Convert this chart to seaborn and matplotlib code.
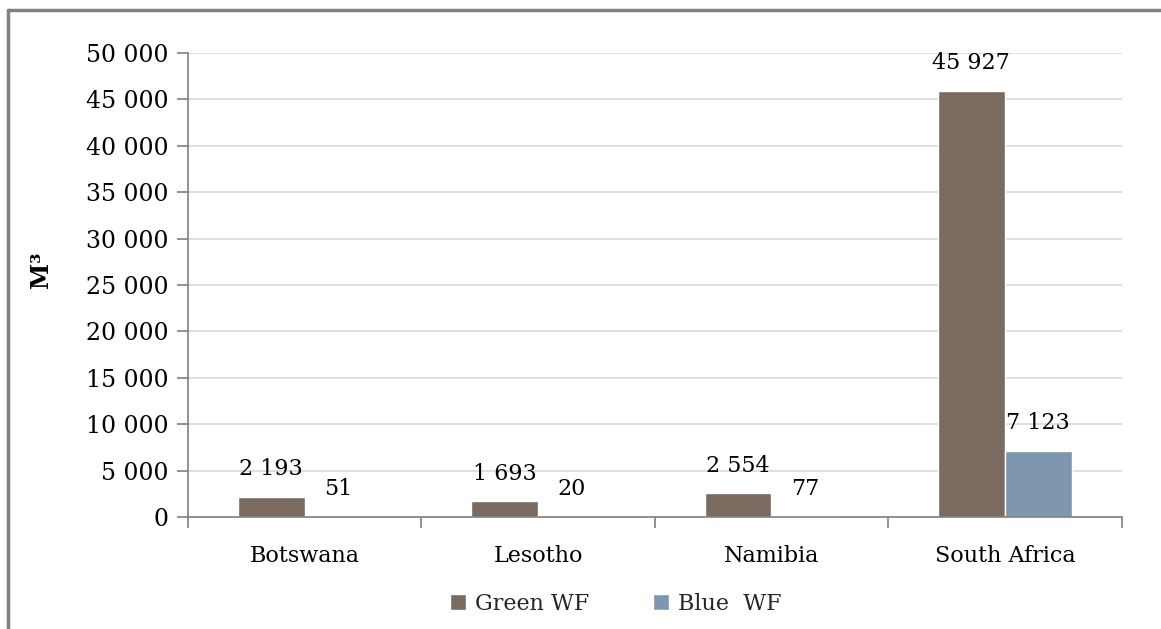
import matplotlib
matplotlib.use('Agg')
import matplotlib.pyplot as plt
from matplotlib.lines import Line2D
from matplotlib.ticker import FuncFormatter
import seaborn as sns
import pandas as pd

# Datos
countries = ['Botswana', 'Lesotho', 'Namibia', 'South Africa']
green_wf = [2193, 1693, 2554, 45927]
blue_wf = [51, 20, 77, 7123]
series_names = ['Green WF', 'Blue  WF']
colors = ['#7A6A5F', '#7F97AE']

df = pd.DataFrame({
    'country': countries * 2,
    'value': green_wf + blue_wf,
    'serie': [series_names[0]] * 4 + [series_names[1]] * 4,
})

sns.set_theme(style='white')
plt.rcParams['font.family'] = ['DejaVu Serif']
plt.rcParams['font.size'] = 16

fig = plt.figure(figsize=(11.61, 6.29), dpi=100)
ax = fig.add_axes([0.162, 0.178, 0.804, 0.738])

sns.barplot(data=df, x='country', y='value', hue='serie', palette=colors,
            width=0.574, saturation=1, ax=ax, legend=True)

def fmt(v):
    return '{:,.0f}'.format(v).replace(',', ' ')

for cont in ax.containers:
    ax.bar_label(cont, labels=[fmt(b.get_height()) for b in cont],
                 padding=12, fontsize=16, color='black')

ax.set_ylim(0, 50000)
ax.set_yticks(range(0, 50001, 5000))
ax.yaxis.set_major_formatter(FuncFormatter(lambda v, p: fmt(v)))
ax.set_xlim(-0.5, 3.5)
ax.grid(axis='y', color='#D9D9D9', linewidth=1.2)
ax.set_axisbelow(True)

for s in ['top', 'right']:
    ax.spines[s].set_visible(False)
for s in ['left', 'bottom']:
    ax.spines[s].set_color('#808080')
    ax.spines[s].set_linewidth(1.2)

ax.tick_params(axis='y', which='major', length=8, color='#808080', width=1.2,
               labelsize=17, labelcolor='black', pad=6, left=True)
ax.tick_params(axis='x', which='major', length=0, labelsize=16,
               labelcolor='black', pad=20)
ax.set_xticks([-0.5, 0.5, 1.5, 2.5, 3.5], minor=True)
ax.tick_params(axis='x', which='minor', length=8, color='#808080', width=1.2,
               bottom=True)

ax.set_xlabel('')
ax.set_ylabel('M³', fontweight='bold', fontsize=17, color='black')
ax.yaxis.set_label_coords(-0.145, 0.532)

leg = ax.legend(loc='upper center', bbox_to_anchor=(0.458, -0.12), ncol=2,
                frameon=False, fontsize=16, handlelength=0.7, handleheight=0.7,
                columnspacing=2.9, handletextpad=0.4)

# Marco de la figura (recortado)
fig.add_artist(Line2D([0.007, 1.0], [0.984, 0.984], color='#808080', linewidth=2.5,
                      transform=fig.transFigure))
fig.add_artist(Line2D([0.007, 0.007], [0.0, 0.984], color='#808080', linewidth=2.5,
                      transform=fig.transFigure))

fig.savefig('out.png', dpi=100)
